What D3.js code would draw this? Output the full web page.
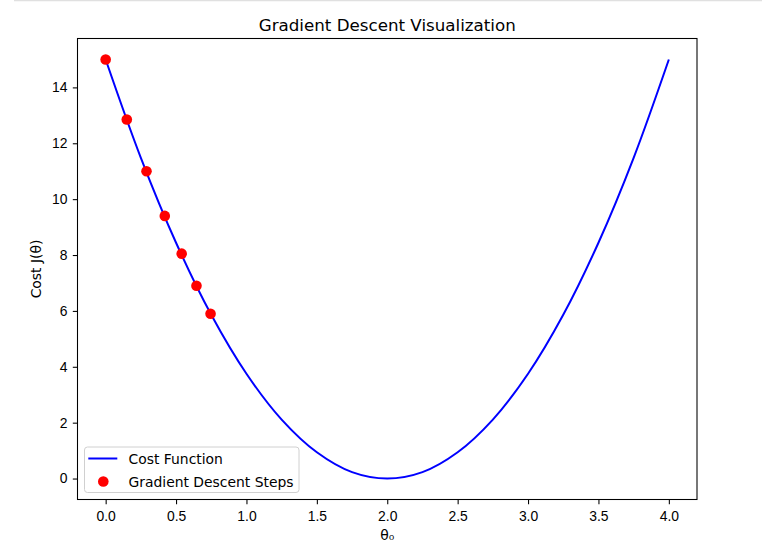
<!DOCTYPE html>
<html>
<head>
<meta charset="utf-8">
<script src="https://cdn.jsdelivr.net/npm/d3@7"></script>
<style>
  body { margin: 0; background: #fff; }
  svg { display: block; font-family: "DejaVu Sans", sans-serif; }
</style>
</head>
<body>
<script>
const WIDTH = 762;
const HEIGHT = 551;

// cost curve
var curveTheta = [0, 0.25, 0.5, 0.75, 1, 1.25, 1.5, 1.75, 2, 2.25, 2.5, 2.75, 3, 3.25, 3.5, 3.75, 4];
var curveCost = [15, 11.48, 8.44, 5.86, 3.75, 2.11, 0.94, 0.23, 0, 0.23, 0.94, 2.11, 3.75, 5.86, 8.44, 11.48, 15];

// gradient descent steps
var stepTheta = [0, 0.15, 0.29, 0.42, 0.54, 0.645, 0.745];
var stepCost = [15, 12.85, 11.0, 9.4, 8.05, 6.9, 5.9];

var xTicks = [0, 0.5, 1, 1.5, 2, 2.5, 3, 3.5, 4];
var yTicks = [0, 2, 4, 6, 8, 10, 12, 14];

var plotLeft = 77.5, plotRight = 697, plotTop = 38.5, plotBottom = 499.5;
var FONT = '13.9px';

var svg = d3.select('body').append('svg')
    .attr('width', WIDTH)
    .attr('height', HEIGHT);

// faint line at top edge
svg.append('line')
    .attr('x1', 14).attr('x2', WIDTH)
    .attr('y1', 0.5).attr('y2', 0.5)
    .attr('stroke', '#e0e0e0')
    .attr('stroke-width', 1.5);

var xScale = d3.scaleLinear().domain([-0.2, 4.2]).range([plotLeft, plotRight]);
var yScale = d3.scaleLinear().domain([-0.75, 15.75]).range([plotBottom, plotTop]);

var xAxis = d3.axisBottom(xScale).tickValues(xTicks).tickFormat(d3.format('.1f')).tickSize(4.7).tickPadding(6.5);
var yAxis = d3.axisLeft(yScale).tickValues(yTicks).tickFormat(d3.format('d')).tickSize(4.7).tickPadding(5.3);

var gx = svg.append('g').attr('transform', 'translate(0,' + plotBottom + ')').call(xAxis);
var gy = svg.append('g').attr('transform', 'translate(' + plotLeft + ',0)').call(yAxis);
[gx, gy].forEach(function (g) {
    g.select('.domain').remove();
    g.selectAll('.tick line').attr('stroke', '#000').attr('stroke-width', 1.07);
    g.selectAll('.tick text').attr('fill', '#000').style('font-size', FONT);
});

var line = d3.line()
    .x(function (d, i) { return xScale(curveTheta[i]); })
    .y(function (d, i) { return yScale(curveCost[i]); })
    .curve(d3.curveCatmullRom.alpha(0.5));

svg.append('path')
    .attr('d', line(curveTheta))
    .attr('fill', 'none')
    .attr('stroke', 'blue')
    .attr('stroke-width', 2);

svg.selectAll('circle.step')
    .data(stepTheta)
    .enter()
    .append('circle')
    .classed('step', true)
    .attr('cx', function (d) { return xScale(d); })
    .attr('cy', function (d, i) { return yScale(stepCost[i]); })
    .attr('r', 5.3)
    .attr('fill', 'red');

// frame
svg.append('rect')
    .attr('x', plotLeft).attr('y', plotTop)
    .attr('width', plotRight - plotLeft).attr('height', plotBottom - plotTop)
    .attr('fill', 'none')
    .attr('stroke', '#000')
    .attr('stroke-width', 1.07);

svg.append('text')
    .attr('x', (plotLeft + plotRight) / 2).attr('y', 30.5)
    .attr('text-anchor', 'middle')
    .style('font-size', '16.7px')
    .text('Gradient Descent Visualization');

svg.append('text')
    .attr('x', (plotLeft + plotRight) / 2).attr('y', 540)
    .attr('text-anchor', 'middle')
    .style('font-size', FONT)
    .text('θ₀');

svg.append('text')
    .attr('transform', 'translate(41,' + (plotTop + plotBottom) / 2 + ') rotate(-90)')
    .attr('text-anchor', 'middle')
    .style('font-size', FONT)
    .text('Cost J(θ)');

// legend
var legend = svg.append('g');
legend.append('rect')
    .attr('x', 84.5).attr('y', 447)
    .attr('width', 214.5).attr('height', 45.5)
    .attr('rx', 3)
    .attr('fill', 'rgba(255,255,255,0.8)')
    .attr('stroke', '#d0d0d0');
legend.append('line')
    .attr('x1', 88.3).attr('x2', 117.3)
    .attr('y1', 458.5).attr('y2', 458.5)
    .attr('stroke', 'blue').attr('stroke-width', 2);
legend.append('circle')
    .attr('cx', 103.3).attr('cy', 481.5).attr('r', 5.3).attr('fill', 'red');
legend.append('text')
    .attr('x', 128.5).attr('y', 464)
    .style('font-size', FONT)
    .text('Cost Function');
legend.append('text')
    .attr('x', 128.5).attr('y', 486.5)
    .style('font-size', FONT)
    .text('Gradient Descent Steps');
</script>
</body>
</html>
